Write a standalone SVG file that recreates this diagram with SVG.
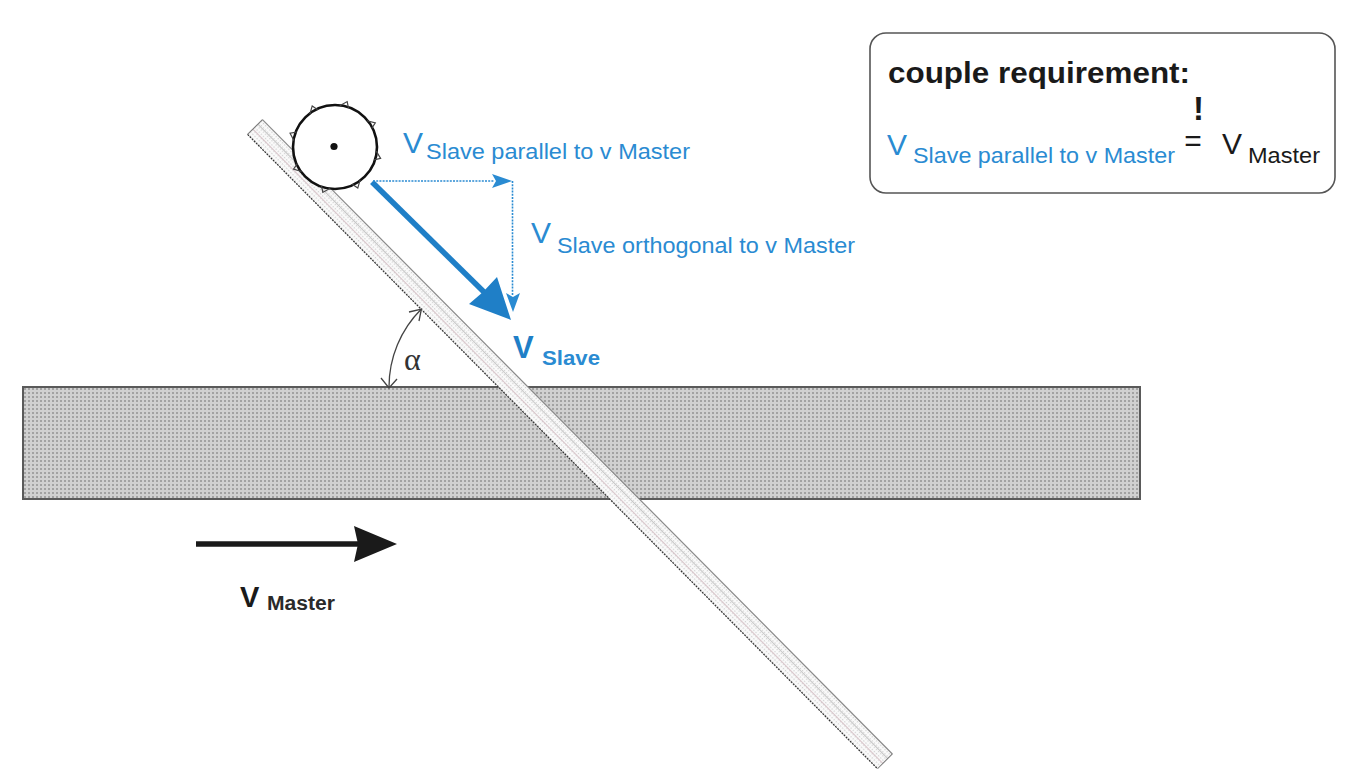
<svg xmlns="http://www.w3.org/2000/svg" width="1351" height="778" viewBox="0 0 1351 778">
<style>
.sans{font-family:"Liberation Sans",Arial,sans-serif}
.blue{fill:#2a8bd2}
.blk{fill:#1a1a1a}
.dotln{stroke:#2a8bd2;stroke-width:1.6;stroke-dasharray:2 1.2;fill:none}
.barb{fill:none;stroke:#444;stroke-width:1.2}
</style>
<defs>
<pattern id="dots" width="4" height="4" patternUnits="userSpaceOnUse">
<rect width="4" height="4" fill="#d0d0d0"/><rect width="2" height="2" fill="#a2a2a2"/>
</pattern>
<pattern id="lightdots" width="3" height="3" patternUnits="userSpaceOnUse">
<rect width="3" height="3" fill="#fbfbfb"/><rect width="1.3" height="1.3" fill="#cfcfcf"/>
</pattern>
<path id="tooth" d="M 41 -6 L 47 0 L 41 3"/>
</defs>
<rect width="1351" height="778" fill="#ffffff"/>

<g id="master-plate">
<rect x="23" y="387" width="1117" height="112" fill="url(#dots)" stroke="#5a5a5a" stroke-width="2"/>
</g>

<g id="slave-strip" transform="translate(255,127) rotate(45.2)">
<rect x="0" y="-10.5" width="894" height="21" fill="url(#lightdots)"/>
<line x1="0" y1="-4" x2="894" y2="-4" stroke="#c4c4c4" stroke-width="1"/>
<line x1="0" y1="3" x2="894" y2="3" stroke="#d9c6cb" stroke-width="1"/>
<line x1="0" y1="-10.5" x2="894" y2="-10.5" stroke="#8a8a8a" stroke-width="1.2"/>
<line x1="0" y1="10.5" x2="894" y2="10.5" stroke="#333" stroke-width="1.2" stroke-dasharray="2 1"/>
<line x1="0" y1="-10.5" x2="0" y2="10.5" stroke="#777" stroke-width="1"/>
<line x1="894" y1="-10.5" x2="894" y2="10.5" stroke="#777" stroke-width="1"/>
</g>

<g id="roller">
<circle cx="335" cy="147" r="42" fill="#ffffff" stroke="#111" stroke-width="2.6"/>
<circle cx="334" cy="146.5" r="3.6" fill="#111"/>
<g class="barb" transform="translate(335,147)">
<use href="#tooth" transform="rotate(-119)"/>
<use href="#tooth" transform="rotate(-75)"/>
<use href="#tooth" transform="rotate(-31)"/>
<use href="#tooth" transform="rotate(14)"/>
<use href="#tooth" transform="rotate(61)"/>
<use href="#tooth" transform="rotate(105)"/>
<use href="#tooth" transform="rotate(152)"/>
<use href="#tooth" transform="rotate(197)"/>
</g>
</g>

<g id="connectors">
<g id="v-slave-arrow">
<line x1="372" y1="182" x2="486" y2="294" stroke="#1f7fc7" stroke-width="5.5"/>
<polygon points="511,320 469,304 483,292 497,277" fill="#1f7fc7"/>
</g>
<g id="v-parallel-arrow">
<line x1="373" y1="181" x2="494" y2="181" class="dotln"/>
<polygon points="512,181 492,174 496,181 492,188" fill="#2a8bd2"/>
</g>
<g id="v-orthogonal-arrow">
<line x1="512.5" y1="181" x2="512.5" y2="296" class="dotln"/>
<polygon points="513,312 506,293 513,297 520,293" fill="#2a8bd2"/>
</g>
<g id="v-master-arrow">
<line x1="196" y1="544" x2="358" y2="544" stroke="#1a1a1a" stroke-width="5.5"/>
<polygon points="397,544 354,526 358,544 354,562" fill="#1a1a1a"/>
</g>
<g id="alpha-arc" fill="none" stroke="#444" stroke-width="1.3">
<path d="M389,387 A110,110 0 0 1 421.4,309"/>
<polyline points="381,378 389,388 397,379"/>
<polyline points="409,312 421.4,309 419,321"/>
</g>
</g>

<g id="labels" class="sans">
<text x="403" y="152.5" font-size="30" class="blue">V</text>
<text x="426" y="159" font-size="21.5" class="blue" textLength="264" lengthAdjust="spacingAndGlyphs">Slave parallel to v Master</text>
<text x="531" y="243" font-size="30" class="blue">V</text>
<text x="557" y="252.5" font-size="21.5" class="blue" textLength="298" lengthAdjust="spacingAndGlyphs">Slave orthogonal to v Master</text>
<text x="513" y="358" font-size="31" font-weight="bold" fill="#1f7fc7">V</text>
<text x="542" y="365" font-size="20" font-weight="bold" fill="#2a8bd2" textLength="58" lengthAdjust="spacingAndGlyphs">Slave</text>
<text x="240" y="607" font-size="29" font-weight="bold" class="blk">V</text>
<text x="267" y="610" font-size="20" font-weight="bold" fill="#2a2a2a" textLength="68" lengthAdjust="spacingAndGlyphs">Master</text>
<text x="404" y="370" font-size="32" font-family="Liberation Serif,Times New Roman,serif" fill="#333">α</text>
</g>

<g id="requirement-box">
<rect x="870" y="33" width="465" height="160" rx="16" ry="16" fill="#ffffff" stroke="#555" stroke-width="1.6"/>
<g class="sans">
<text x="888" y="83" font-size="29" font-weight="bold" class="blk" textLength="302" lengthAdjust="spacingAndGlyphs">couple requirement:</text>
<text x="887" y="155" font-size="30" class="blue">V</text>
<text x="913" y="163" font-size="21.5" class="blue" textLength="262" lengthAdjust="spacingAndGlyphs">Slave parallel to v Master</text>
<text x="1198.5" y="120" font-size="33" font-weight="bold" text-anchor="middle" class="blk">!</text>
<text x="1193" y="151" font-size="30" text-anchor="middle" class="blk">=</text>
<text x="1222" y="154" font-size="30" class="blk">V</text>
<text x="1248" y="163" font-size="21.5" class="blk" textLength="72" lengthAdjust="spacingAndGlyphs">Master</text>
</g>
</g>
</svg>
